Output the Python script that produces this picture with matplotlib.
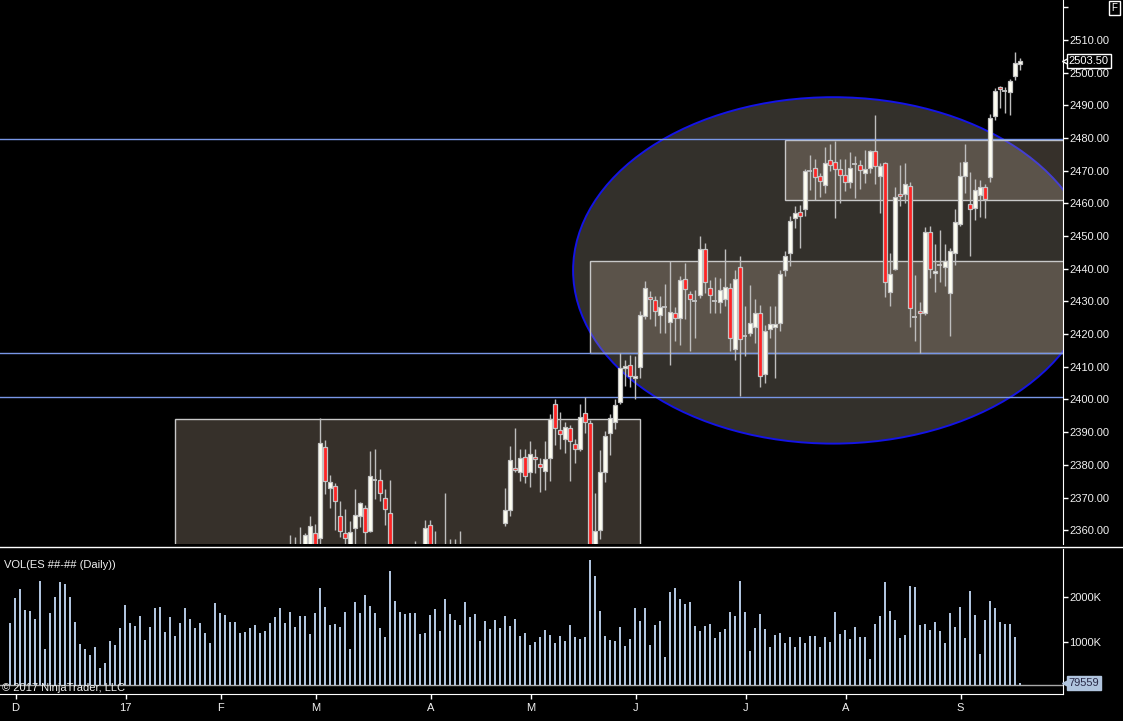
import numpy as np
import matplotlib.pyplot as plt
from matplotlib.patches import Ellipse, Rectangle
from matplotlib.lines import Line2D
from matplotlib.transforms import blended_transform_factory

plt.rcParams['font.family'] = ['Liberation Sans', 'DejaVu Sans']

# ----- daily ES bars (Nov 30 2016 .. Sep 19 2017) -----
opens = [
    2200, 2190, 2182, 2183, 2196, 2204, 2232, 2237, 2250, 2248,
    2262, 2244, 2253, 2249, 2254, 2262, 2256, 2252, 2255, 2253,
    2260, 2241, 2240, 2230, 2249, 2262, 2260, 2268, 2260, 2260,
    2266, 2262, 2266, 2259, 2263, 2255, 2263, 2256, 2272, 2290,
    2288, 2286, 2272, 2270, 2272, 2288, 2284, 2285, 2286, 2299,
    2307, 2320, 2329, 2340, 2338, 2342, 2348, 2352, 2350, 2350,
    2354, 2359, 2357.5, 2385.6, 2373.0, 2373.6, 2364.5, 2359, 2354, 2360.8,
    2364.2, 2366.9, 2359.8, 2375.3, 2375.5, 2370, 2365.4, 2337, 2340, 2338,
    2333, 2332, 2350, 2352, 2361.7, 2354, 2350, 2352, 2346, 2352,
    2350, 2348, 2344, 2336, 2320, 2328, 2340, 2333, 2330, 2362.1,
    2366.3, 2379.1, 2377.8, 2382.5, 2377.8, 2382.5, 2380.4, 2378.1, 2382.1, 2398.7,
    2390.6, 2388, 2391.4, 2386.5, 2385, 2396, 2392.9, 2352, 2360.2, 2377.9,
    2389.8, 2393.2, 2399.2, 2409.6, 2410.4, 2406.6, 2410, 2425.5, 2431.4, 2430.5,
    2425.9, 2428.4, 2423.7, 2426.5, 2425, 2436.9, 2432.3, 2430, 2432.1, 2446.2,
    2434, 2430.2, 2429.9, 2430.6, 2434.1, 2415.5, 2440.5, 2419.3, 2420.4, 2422.2,
    2426.5, 2407.9, 2421.7, 2422.2, 2423.4, 2439.7, 2444.8, 2455.5, 2457.5, 2458.3,
    2469.8, 2470.7, 2468.3, 2465.5, 2473.4, 2472.8, 2470.5, 2468.8, 2466.5, 2472.2,
    2471.6, 2469.3, 2470.8, 2475.9, 2468.4, 2472.3, 2432.9, 2439.9, 2462.8, 2462.8,
    2465.2, 2425.3, 2427.2, 2426.5, 2451.4, 2438.7, 2441, 2440.6, 2432.6, 2444.8,
    2453.7, 2468.5, 2459.8, 2458.6, 2462.6, 2465, 2468.1, 2486.6, 2495.5, 2494.5,
    2494, 2499.1, 2502.75,
]
highs = [
    2205, 2194, 2188, 2200, 2206, 2235, 2244, 2252, 2255, 2268,
    2270, 2256, 2258, 2258, 2264, 2264, 2258, 2258, 2257, 2264,
    2262, 2248, 2246, 2256, 2264, 2264, 2274, 2270, 2266, 2268,
    2268, 2270, 2268, 2266, 2266, 2266, 2266, 2276, 2292, 2294,
    2290, 2288, 2280, 2276, 2290, 2290, 2292, 2290, 2302, 2310,
    2322, 2330, 2342, 2344, 2344, 2350, 2358.5, 2357.8, 2361.1, 2359,
    2364.3, 2362, 2394.4, 2387.5, 2376.8, 2374.3, 2368.8, 2366.4, 2362.7, 2372.5,
    2368.5, 2367.8, 2384.1, 2385, 2378.6, 2372.5, 2375.3, 2345, 2344, 2348,
    2342, 2356.8, 2355, 2363, 2363, 2359.7, 2355, 2371.3, 2357.4, 2357.2,
    2359.7, 2352, 2348, 2340, 2330, 2342, 2342, 2340, 2350, 2373,
    2385.7, 2391.2, 2385, 2385, 2387.2, 2385, 2382.2, 2387.2, 2395.7, 2400,
    2396.2, 2393.2, 2392.1, 2387.8, 2398.5, 2400.8, 2393.6, 2371.3, 2384.4, 2390.5,
    2395.6, 2400.2, 2414.1, 2412.2, 2413.5, 2413.2, 2427, 2436.2, 2433.1, 2431.6,
    2431.6, 2435.4, 2442.3, 2428.3, 2437.9, 2441.8, 2433.1, 2433.4, 2450.1, 2447.9,
    2436.7, 2437.4, 2437.2, 2446.1, 2435.7, 2439.7, 2443.8, 2428.5, 2435.1, 2430.8,
    2429, 2422.9, 2428.7, 2428.5, 2439.7, 2445.3, 2456, 2459.1, 2459.6, 2470.5,
    2474.9, 2473.5, 2469.3, 2477.2, 2478.2, 2479.1, 2473.5, 2473.5, 2475.7, 2474.6,
    2473.4, 2476.4, 2476.4, 2487.1, 2472.3, 2472.8, 2444.8, 2465, 2471.8, 2472.3,
    2466.7, 2438.2, 2429.9, 2452.8, 2453.2, 2447.7, 2452, 2447.7, 2446.5, 2458.4,
    2472.8, 2478.2, 2469.6, 2467.5, 2467.2, 2466, 2487.4, 2495.2, 2495.9, 2495.5,
    2498.1, 2506.4, 2504.4,
]
lows = [
    2186, 2178, 2175, 2180, 2190, 2198, 2228, 2234, 2244, 2246,
    2242, 2238, 2246, 2244, 2250, 2252, 2246, 2248, 2250, 2250,
    2240, 2235, 2222, 2228, 2246, 2250, 2254, 2256, 2254, 2248,
    2250, 2258, 2254, 2252, 2250, 2252, 2252, 2254, 2270, 2284,
    2278, 2266, 2262, 2260, 2270, 2280, 2280, 2278, 2284, 2296,
    2304, 2312, 2326, 2330, 2328, 2340, 2345, 2346, 2348, 2346,
    2350, 2350, 2353, 2371, 2366.9, 2360, 2357.8, 2352, 2350, 2353,
    2361.1, 2352, 2359.3, 2369.5, 2368.9, 2361.5, 2334, 2330, 2332, 2326,
    2318, 2330, 2342, 2349, 2350, 2340, 2340, 2344, 2340, 2342,
    2343, 2335, 2334, 2318, 2316, 2326, 2326, 2324, 2328, 2361.3,
    2364.4, 2377.8, 2375.1, 2374.5, 2373.2, 2377.6, 2371.7, 2372.3, 2375, 2386,
    2384.7, 2383.7, 2375.1, 2380.7, 2384.2, 2389.8, 2348, 2345, 2357.2, 2374.6,
    2383, 2391.1, 2398.7, 2404.1, 2403.9, 2400, 2406.6, 2424.7, 2424.5, 2422.4,
    2420.4, 2420.4, 2410.7, 2417.8, 2416.8, 2424.5, 2414.8, 2418.9, 2431.1, 2432.6,
    2426.5, 2426.5, 2426.5, 2428.5, 2414.8, 2412.2, 2401, 2413.2, 2419.3, 2417.3,
    2403.9, 2405.1, 2418.9, 2406.6, 2420.9, 2437.7, 2440.7, 2452.5, 2446.4, 2456,
    2464.2, 2461.1, 2461.9, 2463.2, 2469.8, 2455.5, 2460.1, 2463.7, 2464.7, 2461.6,
    2464.4, 2466.2, 2469.3, 2466, 2457.2, 2431.3, 2428.5, 2439.7, 2459.1, 2460.1,
    2422.1, 2417.8, 2414.2, 2425.7, 2437.2, 2432.8, 2435.9, 2434.6, 2419.3, 2441,
    2453, 2463.2, 2443.8, 2454.8, 2455.7, 2455.5, 2466.7, 2485.6, 2489.1, 2487.6,
    2487.1, 2497.8, 2500.8,
]
closes = [
    2190, 2182, 2183, 2196, 2204, 2232, 2237, 2250, 2248, 2262,
    2244, 2253, 2249, 2254, 2262, 2256, 2252, 2255, 2253, 2260,
    2241, 2240, 2230, 2249, 2262, 2260, 2268, 2260, 2260, 2266,
    2262, 2266, 2259, 2263, 2255, 2263, 2256, 2272, 2290, 2288,
    2286, 2272, 2270, 2272, 2288, 2284, 2285, 2286, 2299, 2307,
    2320, 2329, 2340, 2338, 2342, 2348, 2352, 2350, 2353, 2358.4,
    2361.4, 2354, 2386.8, 2375.1, 2374.6, 2368.8, 2359.8, 2357.5, 2359.6, 2364.8,
    2368.2, 2359.3, 2376.7, 2375.3, 2371.4, 2366.6, 2337, 2340, 2338, 2333,
    2332, 2350, 2352, 2360.8, 2354, 2350, 2352, 2346, 2352, 2350,
    2348, 2344, 2336, 2320, 2328, 2340, 2333, 2330, 2346, 2366.3,
    2381.4, 2378.5, 2382.2, 2376.7, 2383.4, 2381.9, 2379.4, 2381.9, 2394.1, 2391.4,
    2389.5, 2391.6, 2387.3, 2385, 2394.7, 2393.2, 2350, 2359.9, 2377.9, 2388.8,
    2394.3, 2398.4, 2409.6, 2410.2, 2407.1, 2407.3, 2425.9, 2434.1, 2430.8, 2427,
    2428.3, 2428.4, 2426.8, 2425, 2436.5, 2433.8, 2430.6, 2430, 2446, 2436,
    2432.1, 2430.2, 2433.4, 2434.3, 2418.9, 2436.9, 2418.6, 2419.3, 2423.4, 2426.5,
    2407.1, 2421.1, 2423.2, 2423.2, 2438.4, 2443.8, 2454.5, 2457, 2456.2, 2469.8,
    2469.8, 2468.1, 2466.8, 2472.3, 2471.7, 2470.5, 2468.7, 2466.5, 2470.7, 2472.2,
    2470.3, 2470.5, 2475.9, 2471.3, 2471.3, 2436, 2438.4, 2461.9, 2462.2, 2465.9,
    2428, 2425.3, 2426.5, 2451.2, 2439.9, 2439.2, 2441, 2442.3, 2445.3, 2454.3,
    2468.4, 2472.6, 2458.3, 2464.2, 2465, 2461.3, 2486.1, 2494.4, 2494.9, 2494.5,
    2497.5, 2503, 2503.5,
]
# daily volume, thousands of contracts
vol_k = [
    1430, 1985, 2178, 1711, 1689, 1519, 2356, 852, 1652, 2007,
    2333, 2289, 2007, 1452, 956, 852, 719, 896, 430, 541,
    1030, 933, 1319, 1830, 1430, 1356, 1585, 1052, 1341, 1763,
    1785, 1230, 1563, 1141, 1430, 1763, 1519, 1319, 1430, 1200,
    985, 1874, 1652, 1607, 1452, 1452, 1207, 1230, 1319, 1378,
    1207, 1252, 1430, 1563, 1763, 1430, 1674, 1341, 1585, 1585,
    1185, 1652, 2207, 1785, 1385, 1407, 1341, 1674, 852, 1896,
    1652, 2052, 1807, 1652, 1319, 1119, 2585, 1919, 1674, 1630,
    1652, 1652, 1185, 1207, 1607, 1741, 1252, 1963, 1630, 1496,
    1385, 1896, 1563, 1630, 1030, 1474, 1296, 1496, 1319, 1585,
    1363, 1519, 1141, 1207, 941, 1007, 1119, 1267, 1163, 985,
    1141, 1030, 1378, 1104, 1067, 1104, 2822, 2467, 1689, 1133,
    1044, 1022, 1333, 911, 1067, 1756, 1467, 1756, 933, 1378,
    1467, 667, 2111, 2200, 1956, 1844, 1889, 1356, 1244, 1356,
    1400, 1089, 1222, 1289, 1667, 1578, 2356, 1667, 800, 1311,
    1622, 1289, 889, 1156, 1200, 978, 1111, 889, 1111, 978,
    1133, 1133, 889, 1111, 1000, 1667, 1178, 1267, 1067, 1333,
    1111, 1111, 622, 1400, 1578, 2333, 1689, 1489, 1089, 1156,
    2244, 2222, 1378, 1400, 1267, 1444, 1244, 978, 1644, 1333,
    1778, 1089, 2133, 1600, 733, 1489, 1911, 1756, 1444, 1400,
    1400, 1111, 79.559,
]

month_idx = [1, 23, 42, 61, 84, 104, 125, 147, 167, 190]
month_lbl = ['D', '17', 'F', 'M', 'A', 'M', 'J', 'J', 'A', 'S']

# drawing objects on the chart
level_prices = [2479.7, 2414.3, 2400.9]
# (left bar, right bar, bottom price, top price)
zones = [(33.1, 126.1, 2300.0, 2394.1),
         (116.1, 230.0, 2414.3, 2442.4),
         (155.1, 230.0, 2461.1, 2479.4)]
ellipse_center = (164.7, 2439.5)
ellipse_size = (104.0, 106.0)

price_ticks = list(range(2360, 2521, 10))
vol_ticks = [1000, 2000]

# ----- figure -----
W, H = 1123, 721
BG = 'black'
TXT = '#f0f0f0'
WICK = '#bdbdbd'
EDGE = '#c4c4c4'
UP = '#fffff2'
DN = '#ff2424'

fig = plt.figure(figsize=(W / 100, H / 100), dpi=100, facecolor=BG)
ax = fig.add_axes([0, 1 - 544 / H, 1063 / W, 544 / H], facecolor=BG)
axv = fig.add_axes([0, 1 - 694 / H, 1063 / W, 145 / H], facecolor=BG)

n = len(closes)
assert len(opens) == len(highs) == len(lows) == n == len(vol_k)
x = np.arange(n)
o, h, l, c = (np.array(a, dtype=float) for a in (opens, highs, lows, closes))
up = c > o + 0.3
dn = c < o - 0.3
doji = ~(up | dn)

# drawings: ellipse, zones, levels
ax.add_patch(Ellipse(ellipse_center, *ellipse_size, facecolor='#33302b',
                     edgecolor='#1414e6', lw=1.4, zorder=1))
for x0, x1, y0, y1 in zones:
    ax.add_patch(Rectangle((x0, y0), x1 - x0, y1 - y0,
                           facecolor=(200 / 255, 178 / 255, 159 / 255, 0.27),
                           edgecolor='#c8c8c8', lw=1.0, zorder=2))
for lv in level_prices:
    ax.axhline(lv, color='#7896e6', lw=1.0, zorder=3)

# candles
ax.vlines(x, l, h, color=WICK, lw=1.0, zorder=5)
ax.bar(x[up], (c - o)[up], bottom=o[up], width=0.8, color=UP,
       edgecolor=EDGE, linewidth=0.9, zorder=6)
ax.bar(x[dn], (o - c)[dn], bottom=c[dn], width=0.8, color=DN,
       edgecolor=EDGE, linewidth=0.9, zorder=6)
ax.hlines(c[doji], x[doji] - 0.45, x[doji] + 0.45, color=EDGE, lw=1.3, zorder=6)

xlim = (-1.92, 210.68)
ax.set_xlim(*xlim)
ax.set_ylim(2355.78, 2522.24)
ax.yaxis.tick_right()
ax.set_yticks(price_ticks)
ax.set_yticklabels([f"{v:.2f}" if v <= 2510 else '' for v in price_ticks])
ax.tick_params(axis='y', direction='out', length=3.5, width=1, colors='white',
               labelcolor=TXT, labelsize=8, pad=1)
ax.set_xticks([])
for s in ('left', 'top', 'bottom'):
    ax.spines[s].set_visible(False)
ax.spines['right'].set_color('white')

# last price marker
trans = blended_transform_factory(ax.transAxes, ax.transData)
ax.plot([1.0015], [c[-1]], marker='<', ms=5, mfc='black', mec='white', mew=1,
        transform=trans, clip_on=False, zorder=9)
ax.annotate(f"{c[-1]:.2f}", xy=(1.0, c[-1]), xycoords=trans, xytext=(4, 0),
            textcoords='offset points', ha='left', va='center', color='white',
            fontsize=8, annotation_clip=False, zorder=11,
            bbox=dict(boxstyle='square,pad=0.18', fc='black', ec='white', lw=1))

# ----- volume panel -----
base = 44
v = np.array(vol_k, dtype=float)
axv.bar(x, v - base, bottom=base, width=0.4, color='#b0c4de', zorder=3)
axv.axhline(base, color='#a8a8a8', lw=1.0, zorder=2)
axv.set_xlim(*xlim)
axv.set_ylim(-155.6, 3066.7)
axv.yaxis.tick_right()
axv.set_yticks(vol_ticks)
axv.set_yticklabels([f"{t}K" for t in vol_ticks])
axv.set_xticks(np.array(month_idx) + 0.2)
axv.set_xticklabels(month_lbl)
axv.tick_params(axis='both', direction='out', length=3.5, width=1, colors='white',
                labelcolor=TXT, labelsize=8)
axv.tick_params(axis='y', pad=1)
axv.tick_params(axis='x', pad=3)
for s in ('left', 'top'):
    axv.spines[s].set_visible(False)
axv.spines['right'].set_color('white')
axv.spines['bottom'].set_color('white')

transv = blended_transform_factory(axv.transAxes, axv.transData)
axv.plot([1.0015], [v[-1]], marker='<', ms=5, mfc='#b0c4de', mec='#b0c4de',
         transform=transv, clip_on=False, zorder=9)
axv.annotate(f"{v[-1] * 1000:.0f}", xy=(1.0, v[-1]), xycoords=transv, xytext=(4, 0),
             textcoords='offset points', ha='left', va='center', color='#2a2a48',
             fontsize=8, annotation_clip=False, zorder=11,
             bbox=dict(boxstyle='square,pad=0.18', fc='#b0c4de', ec='#b0c4de', lw=1))

# panel separator and texts
fig.add_artist(Line2D([0, 1], [1 - 547 / H] * 2, transform=fig.transFigure,
                      color='white', lw=1))
fig.text(4 / W, 1 - 565 / H, 'VOL(ES ##-## (Daily))', color=TXT, fontsize=8,
         ha='left', va='center')
fig.text(2 / W, 1 - 688 / H, '\u00a9 2017 NinjaTrader, LLC', color=TXT, fontsize=8,
         ha='left', va='center')
fig.text(1114.5 / W, 1 - 8 / H, 'F', color='white', fontsize=7, ha='center', va='center',
         bbox=dict(boxstyle='square,pad=0.25', fc='black', ec='white', lw=1))

fig.savefig('out.png', dpi=100, facecolor=BG)
